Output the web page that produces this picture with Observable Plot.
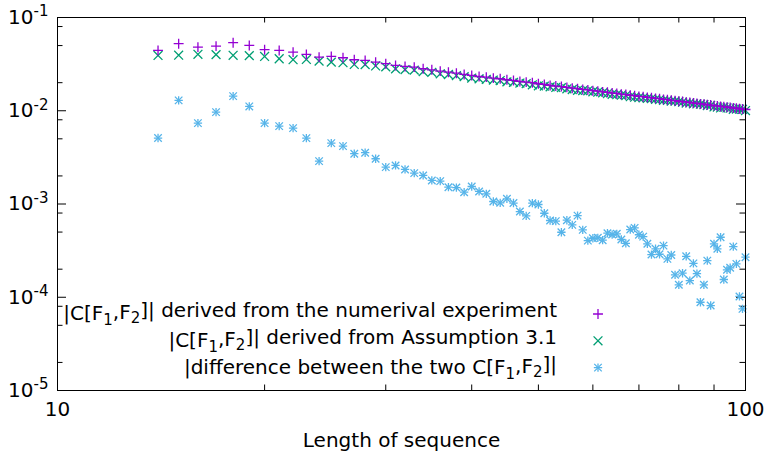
<!DOCTYPE html>
<html><head><meta charset="utf-8">
<script src="https://cdn.jsdelivr.net/npm/d3@7"></script>
<script src="https://cdn.jsdelivr.net/npm/@observablehq/plot@0.6"></script>
<style>
html,body{margin:0;padding:0;background:#fff;}
#chart svg{display:block;}
</style></head><body><div id="chart"></div>
<script>
// ---- data ----
const lengths = [14,15,16,17,18,19,20,21,22,23,24,25,26,27,28,29,30,31,32,33,34,35,36,37,38,39,40,41,42,43,44,45,46,47,48,49,50,51,52,53,54,55,56,57,58,59,60,61,62,63,64,65,66,67,68,69,70,71,72,73,74,75,76,77,78,79,80,81,82,83,84,85,86,87,88,89,90,91,92,93,94,95,96,97,98,99,100];
const numerical = [0.04435,0.05238,0.04812,0.04935,0.05368,0.05019,0.04513,0.04435,0.04250,0.04016,0.03757,0.03824,0.03703,0.03525,0.03465,0.03321,0.03194,0.03062,0.02985,0.02936,0.02820,0.02750,0.02660,0.02593,0.02529,0.02451,0.02390,0.02331,0.02293,0.02237,0.02204,0.02151,0.02114,0.02062,0.02026,0.01998,0.01949,0.01914,0.01867,
0.01841,0.01817,0.01782,0.01747,0.01727,0.01693,0.01674,0.01640,0.01623,0.01593,0.01576,0.01548,0.01532,0.01505,0.01491,0.01467,0.01452,0.01427,0.01414,0.01391,0.01379,0.01358,0.01346,0.01325,0.01314,0.01293,0.01283,0.01264,0.01254,0.01236,0.01227,0.01209,0.01200,0.01183,0.01175,0.01158,0.01150,0.01135,0.01127,0.01112,0.01105,0.01091,0.01085,0.01070,0.01064,0.01050,0.01044,0.01031];
const assumption = [0.03920,0.03942,0.04029,0.03997,0.03931,0.03899,0.03820,0.03611,0.03525,0.03552,0.03405,0.03321,0.03275,0.03138,
0.03122,0.03025,0.02955,0.02812,0.02759,0.02728,0.02626,0.02579,0.02489,0.02448,0.02385,0.02321,0.02240,0.02201,0.02168,0.02134,0.02106,0.02041,0.02014,0.01982,0.01955,0.01899,0.01853,0.01838,0.01803,
0.01779,0.01769,0.01718,0.01690,0.01656,0.01643,0.01635,0.01599,0.01582,0.01555,0.01528,0.01503,0.01486,0.01467,0.01455,0.01415,0.01398,0.01382,0.01371,0.01356,0.01351,0.01326,0.01318,0.01291,0.01289,0.01265,0.01266,0.01251,0.01236,0.01210,0.01212,0.01187,0.01183,0.01175,0.01161,0.01135,0.01143,0.01099,0.01096,0.01071,0.01092,0.01072,0.01065,0.01036,0.01042,0.01040,0.01037,0.01005];
const difference = [0.005099,0.01291,0.007364,0.009662,0.01435,0.01113,0.007364,0.006838,0.006511,0.005090,0.002881,0.004496,0.004177,0.003461,0.003548,0.003057,0.002484,0.002591,0.002347,0.002142,0.002025,0.001789,0.001758,0.001514,0.001500,0.001339,0.001541,0.001363,0.001286,0.001064,0.001030,0.001137,0.001024,0.000830,0.000746,0.001020,0.000988,0.000796,0.000665,
0.000655,0.000498,0.000670,0.000597,0.000751,0.000528,0.000405,0.000429,0.000434,0.000409,0.000486,0.000470,0.000479,0.000416,0.000379,0.000532,0.000555,0.000468,0.000447,0.000374,0.000287,0.000331,0.000289,0.000358,0.000258,0.000284,0.000174,0.000136,0.000181,0.000275,0.000151,0.000231,0.000179,0.0000884,0.000136,0.000247,0.0000815,0.000374,0.000331,0.000440,0.000155,0.000197,0.000207,0.000349,0.000228,0.000102,0.0000751,0.000269];

const xMajor = [10, 100];
const xMinor = [20, 30, 40, 50, 60, 70, 80, 90];
const yMajor = [1e-1, 1e-2, 1e-3, 1e-4, 1e-5];
const yMinor = [8e-2, 5e-2, 2e-2, 8e-3, 5e-3, 2e-3, 8e-4, 5e-4, 2e-4, 8e-5, 5e-5, 2e-5];
const xLabel = "Length of sequence";
const seriesNames = [
  "|C[F_1,F_2]| derived from the numerival experiment",
  "|C[F_1,F_2]| derived from Assumption 3.1",
  "|difference between the two C[F_1,F_2]|"
];
const seriesColors = ["#9400d3", "#009e73", "#56b4e9"];

// ---- layout / style ----
const W = 769, H = 454;
const mT = 17, mL = 57, mR = 24, mB = 64;
const pw = W - mL - mR, ph = H - mT - mB;
const majorLen = 9, minorLen = 5.5;
const FONT = "'DejaVu Sans', sans-serif";
const FS = 20;

const rows = lengths.map((n, i) => ({n, a: numerical[i], b: assumption[i], d: difference[i]}));

const tickStyle = {stroke: "#000", strokeWidth: 1};
const sw = 1.3;
const chart = Plot.plot({
  width: W, height: H,
  marginTop: mT, marginLeft: mL, marginRight: mR, marginBottom: mB,
  style: {fontFamily: FONT, fontSize: FS + "px", color: "#000", background: "#fff", overflow: "visible"},
  x: {type: "log", domain: [10, 100]},
  y: {type: "log", domain: [1e-5, 1e-1]},
  marks: [
    // inward ticks on all four sides (gnuplot mirrored tics)
    Plot.tickY(yMajor, {y: d => d, insetRight: pw - majorLen, ...tickStyle}),
    Plot.tickY(yMajor, {y: d => d, insetLeft: pw - majorLen, ...tickStyle}),
    Plot.tickY(yMinor, {y: d => d, insetRight: pw - minorLen, ...tickStyle}),
    Plot.tickY(yMinor, {y: d => d, insetLeft: pw - minorLen, ...tickStyle}),
    Plot.tickX(xMinor, {x: d => d, insetTop: ph - minorLen, ...tickStyle}),
    Plot.tickX(xMinor, {x: d => d, insetBottom: ph - minorLen, ...tickStyle}),
    Plot.axisY(yMajor, {tickSize: 0, tickPadding: 9, tickFormat: d => "10^" + Math.round(Math.log10(d)), label: null}),
    Plot.axisX(xMajor, {tickSize: 0, tickPadding: 11, tickFormat: d => String(d), label: xLabel, labelAnchor: "center", labelArrow: "none", labelOffset: 56}),
    // data
    Plot.dot(rows, {x: "n", y: "d", symbol: "plus", r: 2.8, stroke: seriesColors[2], strokeWidth: sw}),
    Plot.dot(rows, {x: "n", y: "d", symbol: "times", r: 3.5, stroke: seriesColors[2], strokeWidth: sw}),
    Plot.dot(rows, {x: "n", y: "b", symbol: "times", r: 4.1, stroke: seriesColors[1], strokeWidth: sw}),
    Plot.dot(rows, {x: "n", y: "a", symbol: "plus", r: 3.3, stroke: seriesColors[0], strokeWidth: sw}),
    Plot.frame({stroke: "#000", strokeWidth: 1})
  ]
});
document.getElementById("chart").append(chart);

const svg = d3.select(chart);
// superscripts in y tick labels
svg.selectAll('g[aria-label="y-axis tick label"] text').each(function () {
  const t = d3.select(this);
  const [base, exp] = t.text().split("^");
  t.text(null);
  t.append("tspan").text(base);
  t.append("tspan").attr("font-size", "15px").attr("dy", "-0.5em").text(exp);
});

// legend inside the plot (key at bottom, gnuplot style)
const legendRight = 557, legendMarkX = 598, legendTop = 314, legendStep = 26.8;
const symbolsFor = [[d3.symbolPlus], [d3.symbolTimes], [d3.symbolPlus, d3.symbolTimes]];
const sizesFor = [[Math.PI * 3.3 * 3.3], [Math.PI * 4.1 * 4.1], [Math.PI * 2.8 * 2.8, Math.PI * 3.5 * 3.5]];
const lg = svg.append("g").attr("font-family", FONT).attr("font-size", FS + "px");
seriesNames.forEach((name, i) => {
  const y = legendTop + i * legendStep;
  const text = lg.append("text").attr("x", legendRight).attr("y", y).attr("dy", "0.32em")
    .attr("text-anchor", "end").attr("fill", "#000");
  const parts = name.split(/_(\d)/);
  parts.forEach((p, j) => {
    if (j % 2 === 1) {
      text.append("tspan").attr("font-size", "15px").attr("dy", "0.3em").text(p);
    } else if (p.length) {
      const ts = text.append("tspan").text(p);
      if (j > 0) ts.attr("dy", "-0.3em");
    }
  });
  symbolsFor[i].forEach((sym, k) => {
    lg.append("path").attr("d", d3.symbol(sym, sizesFor[i][k])())
      .attr("transform", `translate(${legendMarkX},${y})`)
      .attr("fill", "none").attr("stroke", seriesColors[i]).attr("stroke-width", sw);
  });
});
</script>
</body></html>
